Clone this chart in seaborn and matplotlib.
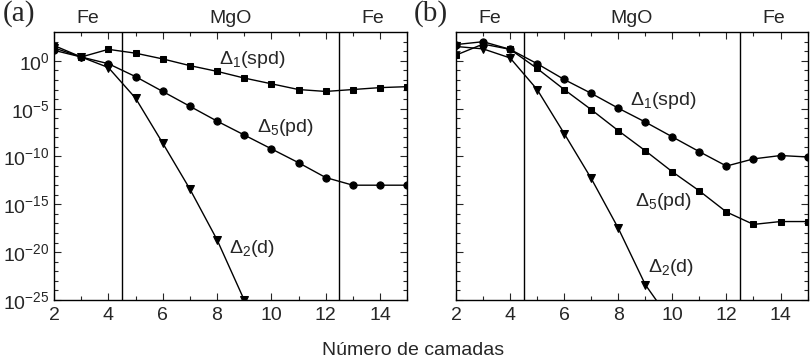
import numpy as np, pandas as pd
import seaborn as sns, matplotlib.pyplot as plt
from matplotlib.ticker import FixedLocator, NullFormatter, MultipleLocator

sns.set_style("ticks")
plt.rcParams['font.family'] = ['Liberation Sans', 'DejaVu Sans']
plt.rcParams['mathtext.fontset'] = 'custom'
plt.rcParams['mathtext.rm'] = 'Liberation Sans'
plt.rcParams['mathtext.it'] = 'Liberation Sans'

layers = list(range(2, 16))

# log10 of the values
# panel (a)
a_d1 = [1.6, 0.4, 1.2, 0.8, 0.2, -0.5, -1.1, -1.8, -2.4, -3.0, -3.2, -3.0, -2.8, -2.7]
a_d5 = [1.1, 0.4, -0.3, -1.65, -3.2, -4.75, -6.3, -7.75, -9.2, -10.65, -12.2, -13.0, -13.0, -13.0]
a_d2 = [1.35, 0.4, -0.7, -3.9, -8.6, -13.4, -18.7, -25.0]
# panel (b)
b_d1 = [1.7, 2.0, 1.2, -0.3, -1.95, -3.4, -4.95, -6.4, -7.95, -9.5, -11.0, -10.25, -9.9, -10.05]
b_d5 = [0.6, 1.75, 1.2, -0.8, -3.0, -5.1, -7.3, -9.4, -11.6, -13.6, -15.8, -17.1, -16.8, -16.8]
b_d2 = [1.5, 1.25, 0.3, -3.0, -7.6, -12.3, -17.5, -23.4, -27.4]

def frame(name, vals):
    return pd.DataFrame({'camada': layers[:len(vals)], 'valor': 10.0 ** np.array(vals), 'serie': name})

panels = {
    'a': pd.concat([frame('d1', a_d1), frame('d5', a_d5), frame('d2', a_d2)]),
    'b': pd.concat([frame('d1', b_d1), frame('d5', b_d5), frame('d2', b_d2)]),
}
marks = {'a': {'d1': 's', 'd5': 'o', 'd2': 'v'},
         'b': {'d1': 'o', 'd5': 's', 'd2': 'v'}}
msize = {'s': 4.8, 'o': 5.2, 'v': 5.5}
notes = {'a': [(9.3, 10**0.1, r'$\Delta_1$(spd)'), (10.5, 1e-7, r'$\Delta_5$(pd)'), (9.3, 10**-19.6, r'$\Delta_2$(d)')],
         'b': [(9.65, 10**-4.1, r'$\Delta_1$(spd)'), (9.65, 10**-14.7, r'$\Delta_5$(pd)'), (9.95, 10**-21.6, r'$\Delta_2$(d)')]}
FS = 14

fig = plt.figure(figsize=(8.1, 3.61), dpi=100)
axes = {'a': fig.add_axes([0.0667, 0.169, 0.436, 0.742]),
        'b': fig.add_axes([0.563, 0.169, 0.434, 0.742])}

for key, ax in axes.items():
    df = panels[key]
    for s in ['d1', 'd5', 'd2']:
        sub = df[df.serie == s]
        m = marks[key][s]
        sns.lineplot(data=sub, x='camada', y='valor', ax=ax, color='black', lw=1,
                     marker=m, markersize=msize[m], markeredgecolor='black', legend=False)
    ax.set_yscale('log')
    ax.set_xlim(2, 15)
    ax.set_ylim(1e-25, 1e3)
    ax.axvline(4.5, color='black', lw=1)
    ax.axvline(12.5, color='black', lw=1)
    ax.xaxis.set_major_locator(MultipleLocator(2))
    ax.xaxis.set_minor_locator(MultipleLocator(1))
    ax.yaxis.set_major_locator(FixedLocator([10.0 ** e for e in range(-25, 1, 5)]))
    ax.yaxis.set_minor_locator(FixedLocator([10.0 ** e for e in range(-25, 3) if e % 5]))
    ax.yaxis.set_minor_formatter(NullFormatter())
    ax.tick_params(which='both', direction='in', top=True, right=True, labelsize=FS, width=0.8)
    ax.tick_params(which='major', length=5)
    ax.tick_params(which='minor', length=3)
    ax.tick_params(axis='x', pad=5)
    ax.tick_params(axis='y', pad=3)
    for sp in ax.spines.values():
        sp.set_linewidth(1)
        sp.set_color('black')
    ax.set_xlabel('')
    ax.set_ylabel('')
    for x, y, t in notes[key]:
        ax.text(x, y, t, ha='center', va='center', fontsize=FS)
    for x, t in [(3.25, 'Fe'), (8.5, 'MgO'), (13.75, 'Fe')]:
        ax.text(x, 1.02, t, transform=ax.get_xaxis_transform(), ha='center', va='bottom', fontsize=FS)
    ax.text(-0.146 if key == 'a' else -0.12, 1.02, f'({key})', transform=ax.transAxes,
            ha='left', va='bottom', fontsize=21, family=['Liberation Serif', 'DejaVu Serif'])

axes['b'].tick_params(axis='y', which='both', labelleft=False)
fig.text(0.51, 0.03, 'Número de camadas', ha='center', va='center', fontsize=FS)

fig.savefig('out.png', dpi=100)
